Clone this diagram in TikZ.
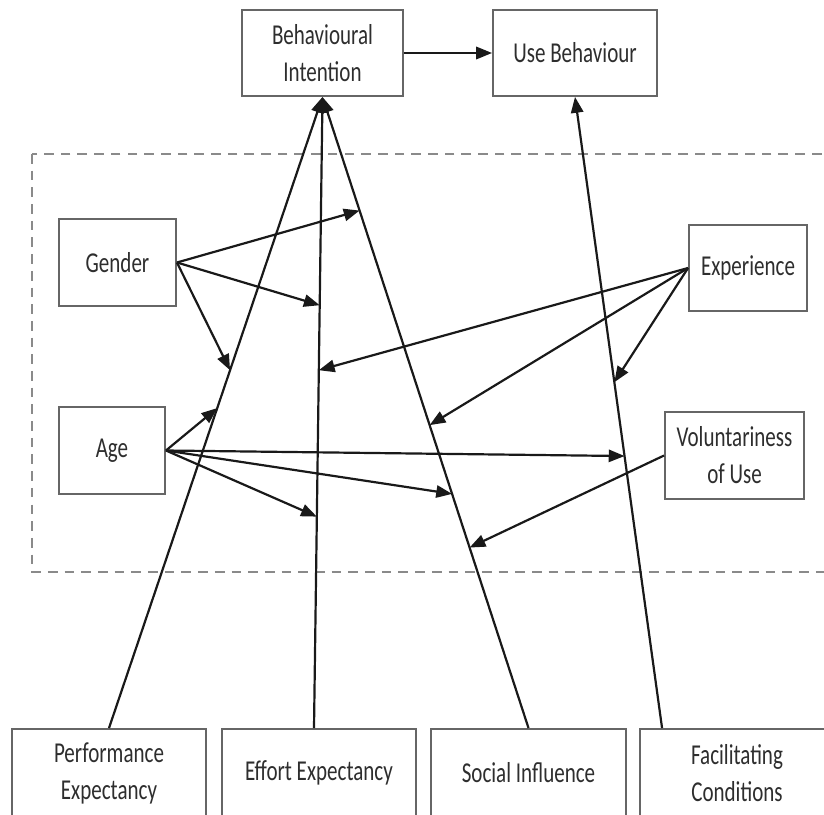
\documentclass[tikz,border=0pt]{standalone}
\usepackage{fontspec}
\setmainfont{Carlito}[FakeStretch=0.73]
\usetikzlibrary{arrows.meta,calc}
\definecolor{boxgray}{HTML}{666666}
\definecolor{dashgray}{HTML}{8A8A8A}
\definecolor{txtgray}{HTML}{2E2E2E}
\tikzset{
  box/.style={draw=boxgray, line width=1.1pt, fill=white, align=center, inner sep=0pt,
    text=txtgray, font=\fontsize{16.4}{21}\selectfont},
  link/.style={draw=black!90, line width=1.25pt, -{Triangle[length=9pt,width=7pt]}},
  modbox/.style={draw=dashgray, line width=1.4pt, dash pattern=on 5.5pt off 4pt}
}
\begin{document}
\begin{tikzpicture}[x=0.02cm,y=-0.02cm]
\useasboundingbox (0,0) rectangle (824,814);
\clip (0,0) rectangle (824,814);
% dashed moderator region
\draw[modbox] (32,154) rectangle (860,572);
% top nodes
\node[box, minimum width=3.22cm, minimum height=1.72cm] (BI) at (322.5,53) {Behavioural\\Intention};
\node[box, minimum width=3.28cm, minimum height=1.72cm] (UB) at (575,53) {Use Behaviour};
% moderators
\node[box, minimum width=2.34cm, minimum height=1.74cm] (G) at (117.5,262.5) {Gender};
\node[box, minimum width=2.12cm, minimum height=1.74cm] (A) at (112,450.5) {Age};
\node[box, minimum width=2.36cm, minimum height=1.72cm] (X) at (748,268) {Experience};
\node[box, minimum width=2.78cm, minimum height=1.74cm] (V) at (734.5,455.5) {Voluntariness\\of Use};
% bottom constructs
\node[box, minimum width=3.88cm, minimum height=1.76cm] (PE) at (109,773) {Performance\\Expectancy};
\node[box, minimum width=3.88cm, minimum height=1.76cm] (EE) at (319,773) {Effort Expectancy};
\node[box, minimum width=3.90cm, minimum height=1.76cm] (SI) at (528.5,773) {Social Influence};
\node[box, minimum width=3.88cm, minimum height=1.76cm] (FC) at (737,773) {Facilitating\\Conditions};
% start points on the bottom boxes
\coordinate (EEtop) at ($(EE.north)+(-5,0)$);
\coordinate (FCtop) at ($(FC.north west)+(23,0)$);
% main paths with named points for moderators
\path (PE.north) -- (BI.south)
  coordinate[pos=0.567] (pe1)
  coordinate[pos=0.507] (pe2);
\path (EEtop) -- (BI.south)
  coordinate[pos=0.670] (ee1)
  coordinate[pos=0.567] (ee2)
  coordinate[pos=0.335] (ee3);
\path (SI.north) -- (BI.south)
  coordinate[pos=0.820] (si1)
  coordinate[pos=0.480] (si2)
  coordinate[pos=0.371] (si3)
  coordinate[pos=0.286] (si4);
\path (FCtop) -- (UB.south)
  coordinate[pos=0.548] (fc1)
  coordinate[pos=0.431] (fc2);
% main arrows
\draw[link] (PE.north) -- (BI.south);
\draw[link] (EEtop) -- (BI.south);
\draw[link] (SI.north) -- (BI.south);
\draw[link] (FCtop) -- (UB.south);
\draw[link] (BI.east) -- (UB.west);
% gender
\draw[link] (G.east) -- (si1);
\draw[link] (G.east) -- (ee1);
\draw[link] (G.east) -- (pe1);
% age
\draw[link] (A.east) -- (pe2);
\draw[link] (A.east) -- (fc2);
\draw[link] (A.east) -- (si3);
\draw[link] (A.east) -- (ee3);
% experience
\draw[link] (X.west) -- (ee2);
\draw[link] (X.west) -- (si2);
\draw[link] (X.west) -- (fc1);
% voluntariness
\draw[link] (V.west) -- (si4);
\end{tikzpicture}
\end{document}
